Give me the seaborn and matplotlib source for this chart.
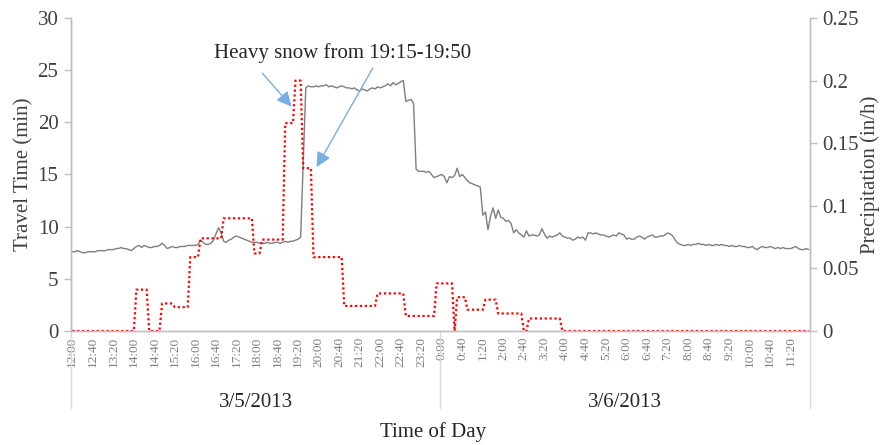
import numpy as np
import pandas as pd
import matplotlib
matplotlib.use("Agg")
import matplotlib.pyplot as plt
import matplotlib.transforms as mtransforms
import seaborn as sns

# 5-minute time stamps, 3/5/2013 12:00 to 3/6/2013 11:55
times = pd.date_range("2013-03-05 12:00", "2013-03-06 11:55", freq="5min")

# travel time (min), one row per hour (12:00 ... 11:00), 12 samples of 5 min each
travel_time = [
    [7.6, 7.6, 7.7, 7.6, 7.5, 7.5, 7.6, 7.6, 7.6, 7.6, 7.7, 7.7],
    [7.7, 7.7, 7.8, 7.8, 7.8, 7.9, 7.9, 8.0, 7.9, 7.9, 7.8, 7.7],
    [7.9, 8.1, 8.2, 8.0, 8.2, 8.1, 8.0, 8.0, 8.1, 8.1, 8.2, 8.4],
    [8.2, 7.9, 8.0, 8.1, 8.0, 8.0, 8.1, 8.1, 8.1, 8.2, 8.2, 8.2],
    [8.2, 8.3, 8.7, 8.5, 8.3, 8.3, 8.4, 8.7, 9.3, 9.9, 9.4, 8.6],
    [8.5, 8.7, 8.8, 9.0, 9.1, 9.0, 8.9, 8.8, 8.7, 8.6, 8.5, 8.5],
    [8.5, 8.4, 8.4, 8.4, 8.5, 8.4, 8.4, 8.5, 8.5, 8.4, 8.5, 8.6],
    [8.5, 8.6, 8.6, 8.7, 8.8, 9.0, 16.0, 23.3, 23.5, 23.4, 23.4, 23.5],
    [23.4, 23.5, 23.5, 23.6, 23.4, 23.5, 23.4, 23.3, 23.4, 23.5, 23.4, 23.3],
    [23.3, 23.2, 23.3, 23.1, 23.0, 23.2, 23.1, 23.0, 23.2, 23.3, 23.2, 23.4],
    [23.3, 23.4, 23.5, 23.7, 23.5, 23.8, 23.6, 23.7, 23.9, 24.0, 22.0, 22.1],
    [22.2, 21.8, 15.5, 15.3, 15.3, 15.3, 15.2, 15.3, 15.0, 14.7, 14.8, 14.9],
    [15.0, 14.8, 14.2, 14.8, 14.7, 14.9, 15.6, 14.8, 15.0, 14.7, 14.4, 14.2],
    [14.1, 14.0, 13.9, 13.8, 11.1, 11.4, 9.7, 11.0, 11.8, 10.8, 11.6, 10.9],
    [10.8, 10.5, 10.6, 10.3, 9.4, 9.7, 9.4, 9.2, 9.0, 9.6, 9.1, 9.2],
    [9.2, 9.1, 9.2, 9.8, 9.3, 8.9, 9.1, 9.0, 9.1, 9.2, 9.4, 9.1],
    [9.0, 8.9, 8.9, 8.7, 8.8, 9.0, 8.9, 9.0, 8.7, 9.4, 9.4, 9.3],
    [9.4, 9.3, 9.2, 9.2, 9.1, 9.0, 9.1, 9.2, 9.1, 9.4, 9.3, 9.2],
    [8.8, 8.9, 8.8, 8.8, 9.0, 9.1, 9.0, 8.8, 9.0, 9.1, 9.2, 9.0],
    [9.0, 9.1, 9.1, 9.2, 9.4, 9.3, 9.1, 8.7, 8.4, 8.3, 8.2, 8.2],
    [8.3, 8.2, 8.3, 8.3, 8.4, 8.3, 8.3, 8.2, 8.3, 8.2, 8.2, 8.3],
    [8.2, 8.3, 8.2, 8.2, 8.1, 8.2, 8.1, 8.1, 8.2, 8.1, 8.1, 8.0],
    [8.0, 8.1, 7.9, 7.8, 8.0, 8.1, 8.0, 8.0, 8.1, 8.0, 7.9, 8.0],
    [7.9, 8.0, 7.9, 7.9, 7.9, 8.0, 8.1, 7.9, 7.8, 7.8, 7.9, 7.8],
]
travel_time = np.array(travel_time).ravel()

# precipitation (in/h): value holds from each change time until the next one
precip_change_times = [
    "2013-03-05 12:00", "2013-03-05 14:05", "2013-03-05 14:30", "2013-03-05 14:55",
    "2013-03-05 15:20", "2013-03-05 15:50", "2013-03-05 16:10", "2013-03-05 16:55",
    "2013-03-05 17:55", "2013-03-05 18:10", "2013-03-05 18:55", "2013-03-05 19:15",
    "2013-03-05 19:30", "2013-03-05 19:50", "2013-03-05 20:50", "2013-03-05 21:55",
    "2013-03-05 22:50", "2013-03-05 23:50", "2013-03-06 00:25", "2013-03-06 00:30",
    "2013-03-06 00:50", "2013-03-06 01:25", "2013-03-06 01:50", "2013-03-06 02:40",
    "2013-03-06 02:50", "2013-03-06 03:55",
]
precip_change_values = [
    0.0, 0.033, 0.0, 0.022,
    0.019, 0.059, 0.074, 0.090,
    0.062, 0.073, 0.166, 0.200,
    0.130, 0.059, 0.020, 0.030,
    0.012, 0.038, 0.0, 0.027,
    0.017, 0.025, 0.014, 0.0,
    0.010, 0.0,
]
hold = np.searchsorted(pd.to_datetime(precip_change_times), times, side="right") - 1
precipitation = np.array(precip_change_values)[hold]

date_labels = ["3/5/2013", "3/6/2013"]
tick_step = 8  # one label every 40 min
time_labels = [f"{t.hour}:{t.minute:02d}" for t in times]

df = pd.DataFrame({"idx": np.arange(len(times)), "travel": travel_time, "precip": precipitation})

sns.set_style("white")
plt.rcParams["font.family"] = ["Liberation Serif", "DejaVu Serif"]
text_c = "#404040"
axis_c = "#bfbfbf"

fig = plt.figure(figsize=(8.84, 4.45), dpi=100)
ax = fig.add_axes([0.0803, 0.2562, 0.8360, 0.7034])
ax2 = ax.twinx()

sns.lineplot(data=df, x="idx", y="travel", ax=ax, color="#7f7f7f", linewidth=1.0)
sns.lineplot(data=df, x="idx", y="precip", ax=ax2, color="#ff0000", linewidth=1.6,
             linestyle=(0, (1, 1.2)))

ax.set_xlim(-0.5, len(times) - 0.5)
ax.set_ylim(0, 30)
ax2.set_ylim(0, 0.25)
ax.set_yticks(np.arange(0, 31, 5))
ax2.set_yticks([0, 0.05, 0.1, 0.15, 0.2, 0.25])
ax2.set_yticklabels(["0", "0.05", "0.1", "0.15", "0.2", "0.25"])

xt = df["idx"][::tick_step]
ax.set_xticks(xt)
ax.set_xticklabels([time_labels[i] for i in xt], rotation=90, fontsize=9.5, color="#7f7f7f")
ax.tick_params(axis="x", length=0, pad=4)
ax.tick_params(axis="y", length=5, width=1, color=axis_c, labelsize=15, labelcolor=text_c, pad=4)
ax2.tick_params(axis="y", length=5, width=1, color=axis_c, labelsize=15, labelcolor=text_c, pad=4)

for a in (ax, ax2):
    a.spines["top"].set_visible(False)
    for s in ("left", "right", "bottom"):
        a.spines[s].set_color(axis_c)
        a.spines[s].set_linewidth(1)

ax.set_xlabel("")
ax.set_ylabel("Travel Time (min)", fontsize=15, color=text_c, labelpad=3)
ax2.set_ylabel("Precipitation (in/h)", fontsize=15, color=text_c, labelpad=1)

# date grouping under the time labels
trans = mtransforms.blended_transform_factory(ax.transData, ax.transAxes)
n = len(times)
bounds = [-0.5, n / 2 - 0.5, n - 0.5]
for b in bounds:
    ax.plot([b, b], [0, -0.245], transform=trans, color="#d9d9d9", lw=1, clip_on=False)
for i, lab in enumerate(date_labels):
    ax.text((bounds[i] + bounds[i + 1]) / 2, -0.23, lab, transform=trans,
            ha="center", va="center", fontsize=15, color="#262626")
fig.text(0.49, 0.03, "Time of Day", ha="center", va="center", fontsize=15, color="#262626")

# annotation for the heavy snow period
ax.text(105.5, 26.6, "Heavy snow from 19:15-19:50", ha="center", va="center",
        fontsize=15, color="#262626")
arrow = dict(arrowstyle="-|>,head_length=0.45,head_width=0.22", color="#79aee3",
             lw=1.0, mutation_scale=20, shrinkA=0, shrinkB=0)
ax.annotate("", xy=(85.5, 21.5), xytext=(74.1, 24.7), arrowprops=arrow)
ax.annotate("", xy=(95.2, 15.7), xytext=(117.1, 25.2), arrowprops=arrow)

fig.savefig("out.png", dpi=100)
